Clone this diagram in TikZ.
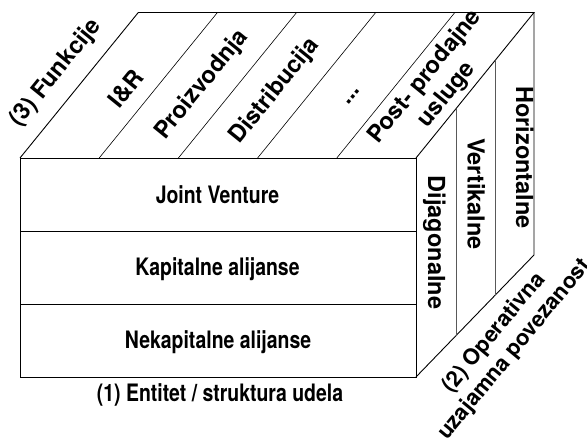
\documentclass[tikz,border=0pt]{standalone}
\usepackage{fontspec}
\setmainfont{TeX Gyre Heros}
\newfontfamily\lblfont{TeX Gyre Heros}
\newfontfamily\frontfont{TeX Gyre Heros}[FakeStretch=0.81]
\usetikzlibrary{calc}
\begin{document}
\begin{tikzpicture}[x=1pt,y=-1pt,
  edge/.style={line width=0.9pt,black},
  divider/.style={line width=0.6pt,black},
  sidediv/.style={line width=0.8pt,black!65},
  frontlbl/.style={inner sep=0pt,anchor=base,font=\frontfont\bfseries\fontsize{24}{28}\selectfont},
  toplbl/.style={inner sep=0pt,rotate=51,font=\lblfont\bfseries\fontsize{23.5}{28}\selectfont,align=center},
  sidelbl/.style={inner sep=0pt,anchor=base,rotate=-90,font=\lblfont\bfseries\fontsize{23.5}{28}\selectfont},
  floorlbl/.style={inner sep=0pt,rotate=50.5,font=\lblfont\bfseries\fontsize{22}{26.5}\selectfont,align=center},
]
\useasboundingbox (0,0) rectangle (587,443);

% corners of the block
\coordinate (FTL) at (20,158);
\coordinate (FTR) at (416,158);
\coordinate (FBR) at (416,377);
\coordinate (FBL) at (20,377);
\coordinate (BTL) at (138.3,12.5);
\coordinate (BTR) at (534,12.5);
\coordinate (BBR) at (534,255);

% front face with its three rows
\draw[edge] (FTL) rectangle (FBR);
\draw[divider] (20,231) -- (416,231);
\draw[divider] (20,304) -- (416,304);

% top face, split into five strips
\draw[edge] (FTL) -- (BTL) -- (BTR) -- (FTR);
\foreach \k in {1,2,3,4}
  \draw[divider] ($(FTL)!\k/5!(FTR)$) -- ($(BTL)!\k/5!(BTR)$);

% right face, split into three strips
\draw[edge] (BTR) -- (BBR) -- (FBR);
\foreach \f in {0.339,0.669}
  \draw[sidediv] ($(FTR)!\f!(BTR)$) -- ($(FBR)!\f!(BBR)$);

% front labels
\node[frontlbl] (jv) at (217.5,203.3) {Joint Venture};
\node[frontlbl] (ka) at (217.5,275.7) {Kapitalne alijanse};
\node[frontlbl] (na) at (218,349) {Nekapitalne alijanse};
\node[frontlbl] (ent) at (220,401.7) {(1) Entitet / struktura udela};

% top labels
\node[toplbl] (fun) at (56,73) {(3) Funkcije};
\node[toplbl] (ir) at (126,89) {I\&R};
\node[toplbl] (pro) at (202,85) {Proizvodnja};
\node[toplbl] (dis) at (275,91) {Distribucija};
\node[toplbl] (dots) at (353,97) {...};
\node[toplbl] (post) at (436,86) {Post- prodajne\\usluge};

% right labels
\node[sidelbl] (hor) at (516,157.5) {Horizontalne};
\node[sidelbl] (ver) at (467.7,194) {Vertikalne};
\node[sidelbl] (dij) at (428,242.5) {Dijagonalne};
\node[floorlbl] (ope) at (504.5,341.5) {(2) Operativna\\uzajamna povezanost};
\end{tikzpicture}
\end{document}
